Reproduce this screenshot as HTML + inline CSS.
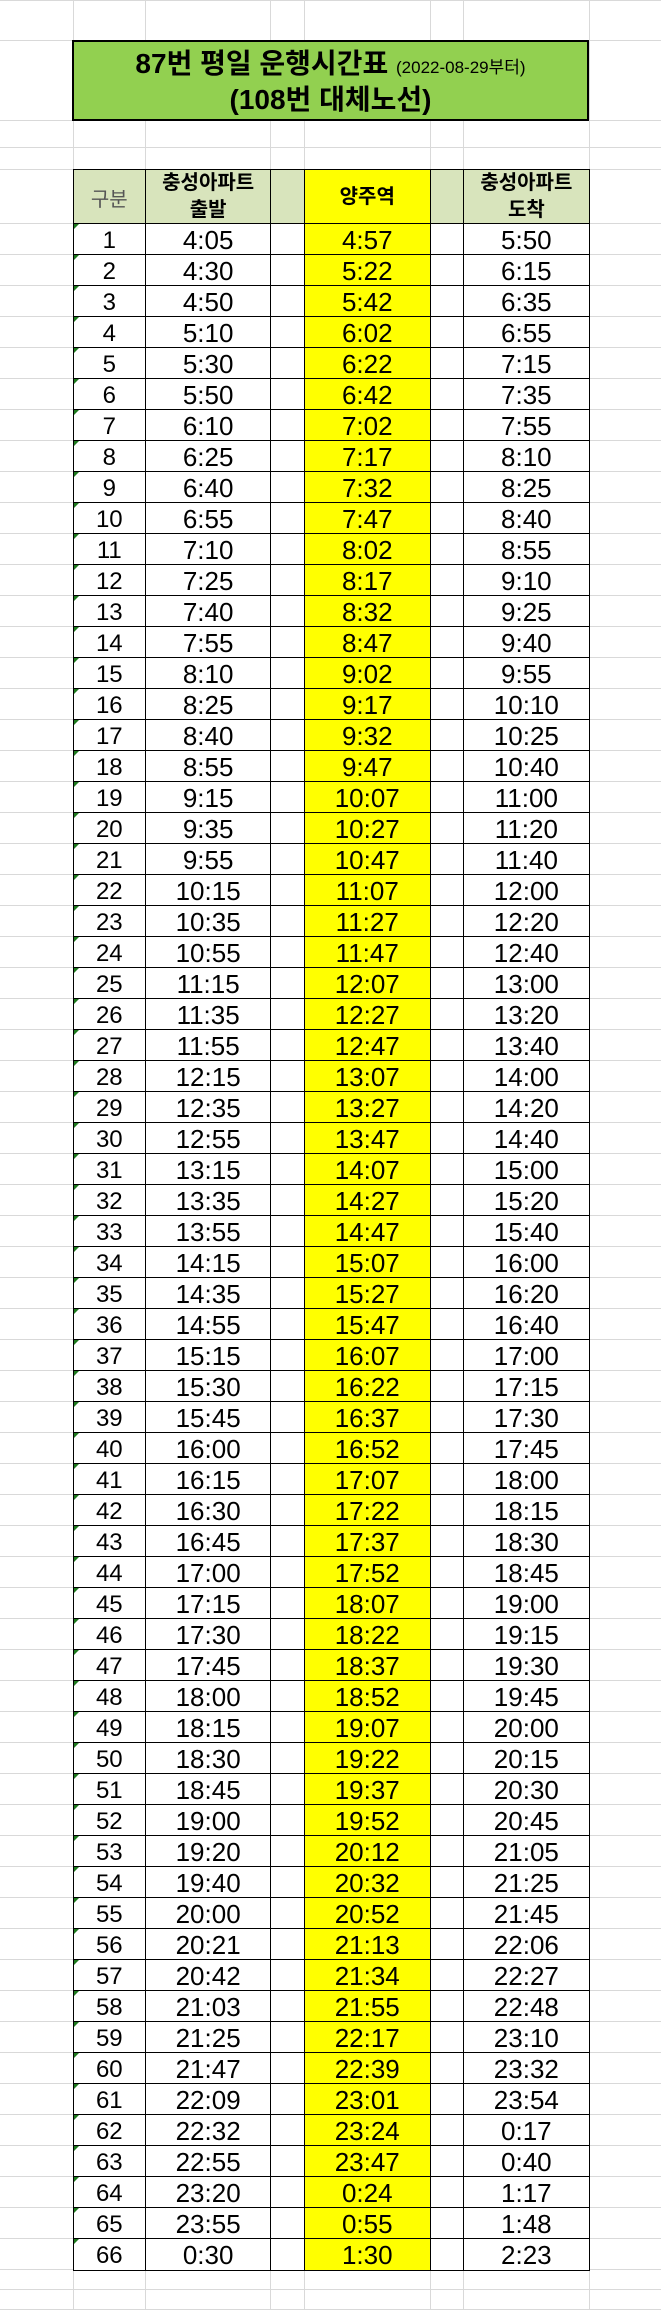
<!DOCTYPE html>
<html><head><meta charset="utf-8">
<style>
html,body{margin:0;padding:0;background:#fff;}
body{width:661px;height:2310px;position:relative;overflow:hidden;font-family:"Liberation Sans","Noto Sans CJK KR",sans-serif;}
.gh{position:absolute;left:0;width:661px;height:1px;background:#d9d9d9;}
.gv{position:absolute;top:0;height:2310px;width:1px;background:#d9d9d9;}
#title{position:absolute;left:72px;top:40px;width:513px;height:77px;background:#92d050;border:2px solid #000;text-align:center;color:#000;}
.cell{position:absolute;box-sizing:border-box;display:flex;align-items:center;justify-content:center;text-align:center;color:#000;}
.tri{position:absolute;width:0;height:0;border-top:5px solid #1e7a1e;border-right:5px solid transparent;}
</style></head>
<body>
<div id="grid"></div>
<div id="title">
  <div style="position:absolute;left:0;right:0;top:5px;font-size:28px;font-weight:bold;line-height:34px;">87번 평일 운행시간표 <span style="font-size:17px;font-weight:normal;">(2022-08-29부터)</span></div>
  <div style="position:absolute;left:0;right:0;top:41px;font-size:28px;font-weight:bold;line-height:34px;">(108번 대체노선)</div>
</div>
<div id="table"></div>
<script>
const routeNo = ["구분"];
const departTimes = ["4:05","4:30","4:50","5:10","5:30","5:50","6:10","6:25","6:40","6:55","7:10","7:25","7:40","7:55","8:10","8:25","8:40","8:55","9:15","9:35","9:55","10:15","10:35","10:55","11:15","11:35","11:55","12:15","12:35","12:55","13:15","13:35","13:55","14:15","14:35","14:55","15:15","15:30","15:45","16:00","16:15","16:30","16:45","17:00","17:15","17:30","17:45","18:00","18:15","18:30","18:45","19:00","19:20","19:40","20:00","20:21","20:42","21:03","21:25","21:47","22:09","22:32","22:55","23:20","23:55","0:30"];
const yangjuTimes = ["4:57","5:22","5:42","6:02","6:22","6:42","7:02","7:17","7:32","7:47","8:02","8:17","8:32","8:47","9:02","9:17","9:32","9:47","10:07","10:27","10:47","11:07","11:27","11:47","12:07","12:27","12:47","13:07","13:27","13:47","14:07","14:27","14:47","15:07","15:27","15:47","16:07","16:22","16:37","16:52","17:07","17:22","17:37","17:52","18:07","18:22","18:37","18:52","19:07","19:22","19:37","19:52","20:12","20:32","20:52","21:13","21:34","21:55","22:17","22:39","23:01","23:24","23:47","0:24","0:55","1:30"];
const arriveTimes = ["5:50","6:15","6:35","6:55","7:15","7:35","7:55","8:10","8:25","8:40","8:55","9:10","9:25","9:40","9:55","10:10","10:25","10:40","11:00","11:20","11:40","12:00","12:20","12:40","13:00","13:20","13:40","14:00","14:20","14:40","15:00","15:20","15:40","16:00","16:20","16:40","17:00","17:15","17:30","17:45","18:00","18:15","18:30","18:45","19:00","19:15","19:30","19:45","20:00","20:15","20:30","20:45","21:05","21:25","21:45","22:06","22:27","22:48","23:10","23:32","23:54","0:17","0:40","1:17","1:48","2:23"];

const colX=[72.5,144.6,270.2,303.5,429.5,462.6,588.6];
const headTop=169.3, headBot=223.3, rowH=31;
const grid=document.getElementById('grid');
const hLines=[0,40,120,147,169.3];
for(let i=0;i<=departTimes.length;i++) hLines.push(headBot+i*rowH);
hLines.push(headBot+departTimes.length*rowH+20,headBot+departTimes.length*rowH+40);
hLines.forEach(y=>{const d=document.createElement('div');d.className='gh';d.style.top=Math.round(y)+'px';


grid.appendChild(d);});
colX.forEach(x=>{const d=document.createElement('div');d.className='gv';d.style.left=Math.round(x)+'px';


grid.appendChild(d);});

const tb=document.getElementById('table');
function cell(c0,c1,y0,y1,html,bg,style,name){
  const d=document.createElement('div');d.className='cell';
  d.style.left=colX[c0]+'px';d.style.top=y0+'px';
  d.style.width=(colX[c1]-colX[c0]+1.5)+'px';d.style.height=(y1-y0+1.5)+'px';
  d.style.border='1.5px solid #000';d.style.background=bg;
  d.innerHTML=html;if(style)d.style.cssText+=style;
  
  
  tb.appendChild(d);return d;
}
const hb='#d8e4bc', hs='font-size:20px;font-weight:bold;line-height:27px;';
cell(0,1,headTop,headBot,routeNo[0],hb,'font-size:20px;color:#555;','header-index');
cell(1,2,headTop,headBot,'충성아파트<br>출발',hb,hs,'header-depart');
cell(2,3,headTop,headBot,'',hb,'','header-gap-1');
cell(3,4,headTop,headBot,'양주역',"#ffff00",hs,'header-yangju');
cell(4,5,headTop,headBot,'',hb,'','header-gap-2');
cell(5,6,headTop,headBot,'충성아파트<br>도착',hb,hs,'header-arrive');
const ts='font-size:26px;padding-top:2px;';
departTimes.forEach((t,i)=>{
  const y0=headBot+i*rowH,y1=y0+rowH;
  cell(0,1,y0,y1,String(i+1),'#fff','font-size:24px;padding-top:2px;','row-index');
  const tr=document.createElement('div');tr.className='tri';tr.style.left=(colX[0]+1)+'px';tr.style.top=(y0+1)+'px';
  
  
  tb.appendChild(tr);
  cell(1,2,y0,y1,t,'#fff',ts,'depart-time');
  cell(2,3,y0,y1,'','#fff','','gap-cell');
  cell(3,4,y0,y1,yangjuTimes[i],'#ffff00',ts,'yangju-time');
  cell(4,5,y0,y1,'','#fff','','gap-cell');
  cell(5,6,y0,y1,arriveTimes[i],'#fff',ts,'arrive-time');
});
</script>
</body></html>
